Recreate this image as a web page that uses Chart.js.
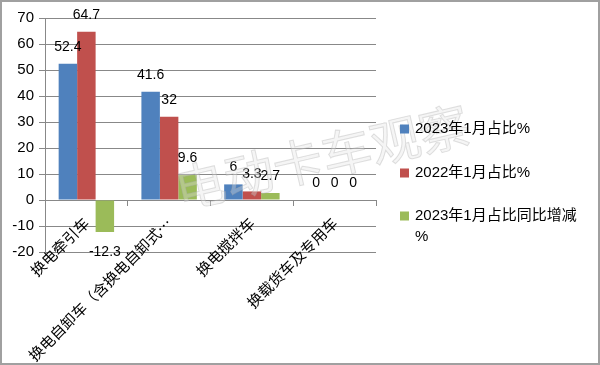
<!DOCTYPE html>
<html>
<head>
<meta charset="utf-8">
<script src="https://cdn.jsdelivr.net/npm/chart.js@4"></script>
<style>
  html, body { margin: 0; padding: 0; background: #fff; }
  #wrap { width: 600px; height: 365px; }
</style>
</head>
<body>
<div id="wrap"><canvas id="chart" width="600" height="365"></canvas></div>
<script>
// categories and series
const categories = ["换电牵引车", "换电自卸车（含换电自卸式…", "换电搅拌车", "换载货车及专用车"];
const share2023 = [52.4, 41.6, 6, 0];
const share2022 = [64.7, 32, 3.3, 0];
const shareChange = [-12.3, 9.6, 2.7, 0];
const seriesNames = ["2023年1月占比%", "2022年1月占比%", "2023年1月占比同比增减%"];
const legendLines = [["2023年1月占比%"], ["2022年1月占比%"], ["2023年1月占比同比增减", "%"]];
const yTicks = [-20, -10, 0, 10, 20, 30, 40, 50, 60, 70];

const colors = ["#4F81BD", "#C0504D", "#9BBB59"];
const gridColor = "#888888";
const numFont = "14px 'Liberation Sans', 'Noto Sans CJK SC', sans-serif";

// value labels over / under each bar
const valueLabels = {
  id: "valueLabels",
  afterDatasetsDraw(chart) {
    const ctx = chart.ctx;
    ctx.save();
    ctx.font = numFont;
    ctx.fillStyle = "#000";
    ctx.textAlign = "center";
    ctx.textBaseline = "middle";
    chart.data.datasets.forEach((ds, i) => {
      chart.getDatasetMeta(i).data.forEach((bar, j) => {
        const v = ds.data[j];
        const y = v < 0 ? bar.y + 20 : bar.y - 17;
        ctx.fillText(String(v), bar.x, y);
      });
    });
    ctx.restore();
  }
};

// watermark, custom legend with wrapped text, outer frame
const extras = {
  id: "extras",
  afterDraw(chart) {
    const ctx = chart.ctx;
    ctx.save();
    ctx.translate(322, 157);
    ctx.rotate(-13 * Math.PI / 180);
    ctx.font = "50px 'Noto Sans CJK SC', sans-serif";
    ctx.fillStyle = "rgba(225,225,225,0.35)";
    ctx.strokeStyle = "rgba(170,170,170,0.35)";
    ctx.lineWidth = 1;
    ctx.textAlign = "center";
    ctx.textBaseline = "middle";
    ctx.fillText("电动卡车观察", 0, 0);
    ctx.strokeText("电动卡车观察", 0, 0);
    ctx.restore();

    ctx.save();
    ctx.font = "15px 'Liberation Sans', 'Noto Sans CJK SC', sans-serif";
    ctx.textBaseline = "middle";
    const rows = [129, 173, 216];
    legendLines.forEach((lines, i) => {
      ctx.fillStyle = colors[i];
      ctx.fillRect(400, rows[i] - 4.5, 9, 9);
      ctx.fillStyle = "#000";
      lines.forEach((t, k) => ctx.fillText(t, 415, rows[i] + k * 21));
    });
    ctx.restore();

    ctx.save();
    ctx.strokeStyle = "#a0a0a0";
    ctx.lineWidth = 2;
    ctx.strokeRect(1, 1, 598, 363);
    ctx.restore();
  }
};

new Chart(document.getElementById("chart"), {
  type: "bar",
  data: {
    labels: categories,
    datasets: [
      { label: seriesNames[0], data: share2023, backgroundColor: colors[0] },
      { label: seriesNames[1], data: share2022, backgroundColor: colors[1] },
      { label: seriesNames[2], data: shareChange, backgroundColor: colors[2] }
    ]
  },
  options: {
    responsive: false,
    animation: false,
    layout: { padding: { left: 0, right: 224, top: 18, bottom: 113 } },
    datasets: { bar: { categoryPercentage: 0.67, barPercentage: 1 } },
    plugins: {
      legend: { display: false },
      tooltip: { enabled: false }
    },
    scales: {
      x: {
        position: { y: 0 },
        grid: { drawOnChartArea: false, drawTicks: true, tickLength: 5, offset: true, color: gridColor },
        border: { color: gridColor, width: 1 },
        ticks: {
          autoSkip: false,
          minRotation: 45,
          maxRotation: 45,
          padding: 9,
          color: "#000",
          font: { family: "'Noto Sans CJK SC', sans-serif", size: 15 }
        }
      },
      y: {
        min: -20,
        max: 70,
        afterBuildTicks(scale) { scale.ticks = yTicks.map(v => ({ value: v })); },
        afterFit(scale) { scale.width = 45; },
        grid: { color: gridColor, tickLength: 6 },
        border: { color: gridColor },
        ticks: {
          padding: 5,
          color: "#000",
          font: { family: "'Liberation Sans', sans-serif", size: 15 }
        }
      }
    }
  },
  plugins: [valueLabels, extras]
});
</script>
</body>
</html>
